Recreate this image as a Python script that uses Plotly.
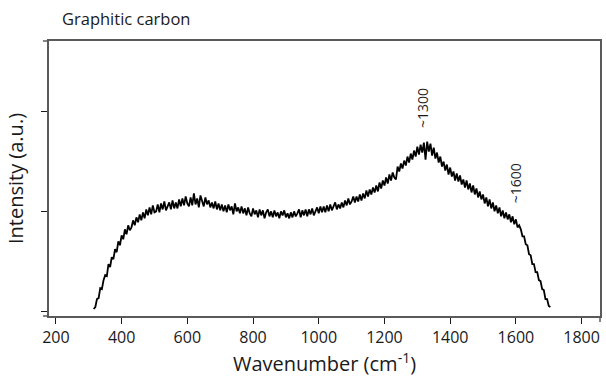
import plotly.graph_objects as go

# Wavenumber grid (cm^-1): 315 to 1705 every 5
wn_start, wn_step = 315, 5
intensity = [
    0.02, 0.04, 0.12, 0.13, 0.23, 0.22, 0.31, 0.36, 0.35, 0.47,
    0.44, 0.54, 0.52, 0.62, 0.59, 0.70, 0.66, 0.76, 0.72, 0.82,
    0.77, 0.86, 0.81, 0.84, 0.91, 0.86, 0.94, 0.89, 0.97, 0.91,
    0.99, 0.93, 1.02, 0.96, 1.04, 0.97, 1.06, 0.99, 1.00, 1.07,
    0.99, 1.08, 1.02, 1.10, 1.01, 1.06, 1.09, 1.02, 1.11, 1.03,
    1.09, 1.03, 1.12, 1.05, 1.13, 1.06, 1.15, 1.08, 1.05, 1.14,
    1.06, 1.18, 1.07, 1.13, 1.04, 1.16, 1.09, 1.05, 1.14, 1.07,
    1.11, 1.04, 1.09, 1.03, 1.10, 1.02, 1.08, 1.01, 1.07, 1.00,
    1.06, 0.99, 1.07, 1.01, 1.05, 0.97, 1.08, 1.00, 1.04, 0.98,
    1.05, 0.98, 1.03, 0.96, 1.04, 0.98, 0.95, 1.03, 0.97, 1.01,
    0.94, 1.02, 0.96, 1.01, 0.93, 0.99, 1.02, 0.95, 1.00, 0.94,
    1.01, 0.95, 0.99, 0.93, 1.00, 0.96, 1.01, 0.94, 0.98, 0.93,
    0.99, 0.94, 1.00, 0.95, 0.98, 1.02, 0.94, 1.01, 0.96, 1.02,
    0.95, 1.02, 0.97, 1.03, 0.96, 1.01, 1.04, 0.98, 1.05, 0.99,
    1.05, 0.99, 1.06, 1.00, 1.07, 1.01, 1.06, 1.09, 1.02, 1.07,
    1.03, 1.09, 1.04, 1.11, 1.06, 1.13, 1.07, 1.10, 1.15, 1.09,
    1.15, 1.10, 1.17, 1.11, 1.18, 1.13, 1.21, 1.15, 1.22, 1.17,
    1.24, 1.19, 1.26, 1.20, 1.29, 1.23, 1.31, 1.26, 1.34, 1.28,
    1.37, 1.31, 1.39, 1.34, 1.32, 1.45, 1.40, 1.48, 1.43, 1.51,
    1.46, 1.55, 1.49, 1.58, 1.52, 1.61, 1.55, 1.65, 1.57, 1.67,
    1.59, 1.69, 1.52, 1.70, 1.60, 1.68, 1.56, 1.64, 1.53, 1.59,
    1.49, 1.55, 1.45, 1.50, 1.41, 1.47, 1.37, 1.44, 1.35, 1.40,
    1.31, 1.38, 1.30, 1.36, 1.27, 1.32, 1.24, 1.31, 1.22, 1.28,
    1.19, 1.26, 1.17, 1.23, 1.14, 1.20, 1.12, 1.17, 1.08, 1.14,
    1.05, 1.12, 1.03, 1.09, 1.00, 1.06, 0.98, 1.04, 0.95, 1.01,
    0.93, 0.99, 0.92, 0.97, 0.89, 0.95, 0.87, 0.92, 0.84, 0.86,
    0.82, 0.75, 0.75, 0.67, 0.66, 0.57, 0.56, 0.47, 0.47, 0.39,
    0.39, 0.31, 0.30, 0.22, 0.21, 0.12, 0.12, 0.05, 0.04,
]
wavenumber = [wn_start + wn_step * i for i in range(len(intensity))]

x_ticks = [200, 400, 600, 800, 1000, 1200, 1400, 1600, 1800]
y_ticks = [0, 1, 2]
peak_labels = ["~1300", "~1600"]
peak_pos = [1318, 1600]
peak_label_y = [2.04, 1.28]

FONT = "Open Sans"
AX = "#5a5a5a"
TXT = "#1a1a1a"

fig = go.Figure()
fig.add_trace(go.Scatter(x=wavenumber, y=intensity, mode="lines",
                         line=dict(color="black", width=1.8), showlegend=False))

for lab, xp, yp in zip(peak_labels, peak_pos, peak_label_y):
    fig.add_annotation(x=xp, y=yp, text=lab, showarrow=False, textangle=-90,
                       font=dict(family=FONT, size=14, color=TXT))

fig.add_annotation(x=0.02, y=1.0, xref="paper", yref="paper", yshift=23,
                   text="Graphitic carbon", showarrow=False, xanchor="left",
                   yanchor="middle", font=dict(family=FONT, size=16.5, color=TXT))

# small overhangs of the frame
for yv in [0, 1]:
    fig.add_shape(type="line", xref="paper", yref="paper", x0=-0.011, x1=0,
                  y0=yv, y1=yv, line=dict(color=AX, width=1.5))
fig.add_shape(type="line", xref="paper", yref="paper", x0=1, x1=1,
              y0=-0.022, y1=0, line=dict(color=AX, width=1.5))

fig.update_layout(
    width=606, height=380,
    margin=dict(l=49, r=4, t=41, b=64),
    paper_bgcolor="white", plot_bgcolor="white",
    font=dict(family=FONT, color=TXT),
    xaxis=dict(range=[179, 1856], tickvals=x_ticks, ticks="outside", ticklen=6,
               tickcolor=TXT, tickwidth=1.3, showline=True, linecolor=AX,
               linewidth=1.5, mirror=True, showgrid=False, zeroline=False,
               tickfont=dict(family=FONT, size=16, color=TXT),
               title=dict(text="Wavenumber (cm<sup>-1</sup>)", standoff=8,
                          font=dict(family=FONT, size=20, color=TXT))),
    yaxis=dict(range=[-0.05, 2.71], tickvals=y_ticks, showticklabels=False,
               ticks="outside", ticklen=6, tickcolor=TXT, tickwidth=1.3,
               showline=True, linecolor=AX, linewidth=1.5, mirror=True,
               showgrid=False, zeroline=False,
               title=dict(text="Intensity (a.u.)", standoff=12,
                          font=dict(family=FONT, size=20, color=TXT))),
)

fig.write_html("out.html")
